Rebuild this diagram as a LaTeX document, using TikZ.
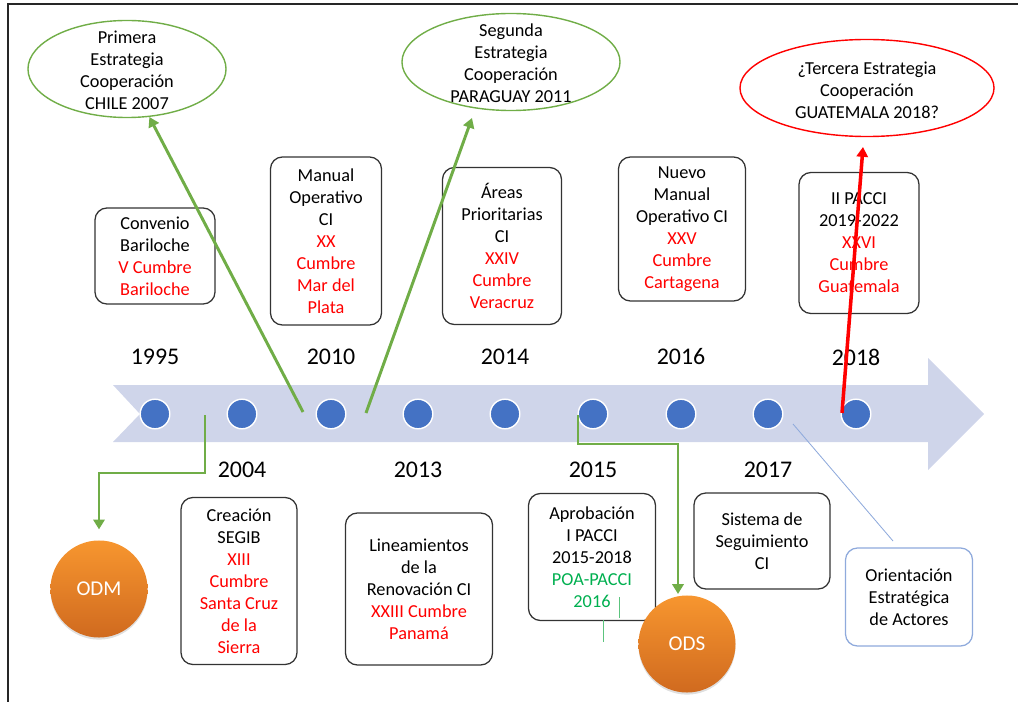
\documentclass[tikz,border=0pt]{standalone}
\usepackage{fontspec}
\setmainfont{Carlito}
\usetikzlibrary{shapes.geometric,arrows.meta,shadows}
\definecolor{bandblue}{HTML}{CFD5EA}
\definecolor{dotblue}{HTML}{4472C4}
\definecolor{lineblue}{HTML}{8FAADC}
\definecolor{arrgreen}{HTML}{70AD47}
\definecolor{txtgreen}{HTML}{00B050}
\definecolor{tickgreen}{HTML}{5CC47E}
\definecolor{orgtop}{HTML}{F7962F}
\definecolor{orgbot}{HTML}{D06A1F}
\newcommand{\rojo}[1]{\textcolor{red}{#1}}
\newcommand{\verde}[1]{\textcolor{txtgreen}{#1}}

\begin{document}
\begin{tikzpicture}[x=0.025cm, y=-0.025cm, font=\fontsize{13}{15.6}\selectfont,
	box/.style={draw=black!80, line width=0.9pt, rounded corners=0.3cm, fill=white, align=center, inner sep=2pt},
	ell/.style={ellipse, line width=1pt, minimum height=2.425cm},
	year/.style={font=\fontsize{17}{20}\selectfont},
	dot/.style={circle, fill=dotblue, draw=white, line width=1pt, minimum size=0.74cm, inner sep=0pt},
	ball/.style={circle, top color=orgtop, bottom color=orgbot, minimum size=2.425cm, text=white, font=\fontsize{15}{18}\selectfont, drop shadow={opacity=0.25, shadow xshift=0pt, shadow yshift=-1.5pt}},
	garrow/.style={draw=arrgreen, line width=2.1pt, -{Triangle[length=7pt, width=8pt]}}]
		\useasboundingbox (0,0) rectangle (1018,702);
		\draw[line width=1.4pt, black!85] (8,702) -- (8,4) -- (1018,4);
		\fill[bandblue] (113,385) -- (928,385) -- (928,358) -- (984,414) -- (928,470) -- (928,442) -- (113,442) -- (140,414) -- cycle;
		\foreach \x [count=\i] in {155,242,331,418,505,593,681,768,856}
			\node[dot] (d\i) at (\x,414) {};
		\node[year] (y1995) at (155,357) {1995};
		\node[year] (y2010) at (331,357) {2010};
		\node[year] (y2014) at (505,357) {2014};
		\node[year] (y2016) at (681,357) {2016};
		\node[year] (y2018) at (856,357) {2018};
		\node[year] (y2004) at (242,470) {2004};
		\node[year] (y2013) at (418,470) {2013};
		\node[year] (y2015) at (593,470) {2015};
		\node[year] (y2017) at (768,470) {2017};

		\node[box, minimum width=3cm, minimum height=2.4cm] (conv) at (155,256) {Convenio\\Bariloche\\\rojo{V Cumbre}\\\rojo{Bariloche}};
		\node[box, minimum width=2.775cm, minimum height=4.2cm] (manual) at (326,241) {Manual\\Operativo\\CI\\\rojo{XX}\\\rojo{Cumbre}\\\rojo{Mar del}\\\rojo{Plata}};
		\node[box, minimum width=2.975cm, minimum height=3.925cm] (areas) at (502,246) {Áreas\\Prioritarias\\CI\\\rojo{XXIV}\\\rojo{Cumbre}\\\rojo{Veracruz}};
		\node[box, minimum width=3.175cm, minimum height=3.6cm] (nuevo) at (682,229) {Nuevo\\Manual\\Operativo CI\\\rojo{XXV}\\\rojo{Cumbre}\\\rojo{Cartagena}};
		\node[box, minimum width=3cm, minimum height=3.525cm] (pacci) at (859,243) {II PACCI\\2019-2022\\\rojo{XXVI}\\\rojo{Cumbre}\\\rojo{Guatemala}};
		\node[box, minimum width=2.9cm, minimum height=4.175cm] (segib) at (239,581) {Creación\\SEGIB\\\rojo{XIII}\\\rojo{Cumbre}\\\rojo{Santa Cruz}\\\rojo{de la}\\\rojo{Sierra}};
		\node[box, minimum width=3.675cm, minimum height=3.8cm] (linea) at (419,589) {Lineamientos\\de la\\Renovación CI\\\rojo{XXIII Cumbre}\\\rojo{Panamá}};
		\node[box, minimum width=3.175cm, minimum height=3.175cm] (aprob) at (592,557) {Aprobación\\I PACCI\\2015-2018\\\verde{POA-PACCI}\\\verde{2016}};
		\node[box, minimum width=3.4cm, minimum height=2.4cm] (sist) at (762,541) {Sistema de\\Seguimiento\\CI};
		\node[box, draw=lineblue, minimum width=3.175cm, minimum height=2.45cm] (orient) at (909,597) {Orientación\\Estratégica\\de Actores};

		\node[ell, draw=arrgreen, minimum width=4.95cm] (e1) at (127,69) {};
		\node[align=center] (e1t) at (127,70) {Primera\\Estrategia\\Cooperación\\CHILE 2007};
		\node[ell, draw=arrgreen, minimum width=5.45cm] (e2) at (511,62) {};
		\node[align=center] (e2t) at (511,63) {Segunda\\Estrategia\\Cooperación\\PARAGUAY 2011};
		\node[ell, draw=red, minimum width=6.35cm] (e3) at (867,88) {};
		\node[align=center] (e3t) at (867,90) {¿Tercera Estrategia\\Cooperación\\GUATEMALA 2018?};

		\coordinate (s1) at (303,412);
		\coordinate (s2) at (366,413);
		\coordinate (t2) at (472,118);
		\coordinate (s3) at (205,415);
		\coordinate (s4) at (578,415);
		\coordinate (t4) at (678,594);
		\coordinate (s5) at (842,413);
		\coordinate (t5) at (863,147);
		\coordinate (b1) at (793,424);
		\coordinate (b2) at (893,541);
		\coordinate (g1) at (619,597);
		\coordinate (g2) at (603,620);

		\draw[lineblue, line width=0.6pt] (b1) -- (b2);
		\draw[tickgreen, line width=0.6pt] (g1) -- ++(0,21);
		\draw[tickgreen, line width=0.6pt] (g2) -- ++(0,22);
		\draw[garrow] (s1) -- (e1.-65);
		\draw[garrow] (s2) -- (t2);
		\draw[garrow, line width=2.5pt, draw=red, -{Triangle[length=7pt, width=8pt]}] (s5) -- (t5);

		\node[ball] (odm) at (99,589) {ODM};
		\node[ball] (ods) at (687,644) {ODS};
		\draw[garrow, shorten >=0.27cm] (s3) -- ++(0,58) -| (odm.north);
		\draw[garrow] (s4) -- ++(0,29) -| (t4);
	\end{tikzpicture}
\end{document}
